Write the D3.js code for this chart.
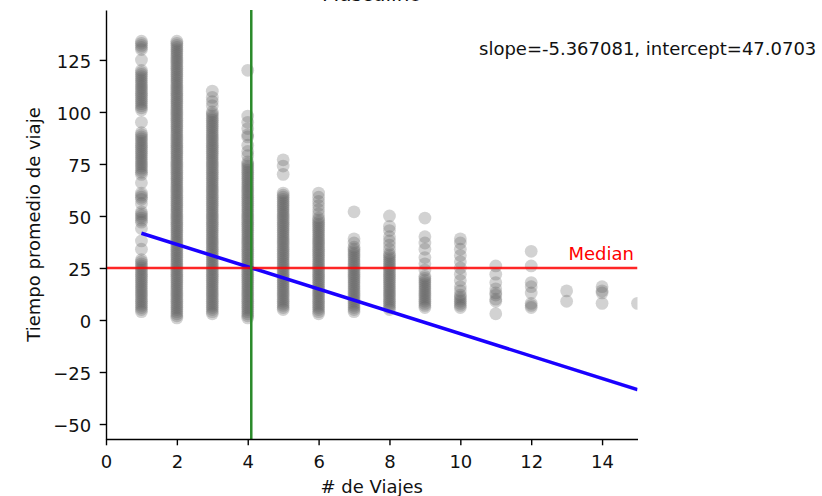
<!DOCTYPE html>
<html><head><meta charset="utf-8">
<script src="https://cdn.jsdelivr.net/npm/d3@7"></script>
<style>
body{margin:0;background:#fff}
svg{display:block}
text{font-family:"DejaVu Sans",sans-serif}
</style>
</head><body>
<svg id="chart" width="822" height="496"></svg>
<script>
// ---- data ----
const tripCounts = [1,2,3,4,5,6,7,8,9,10,11,12,13,14,15];
const t1 = [134,133,132,131,130,125,120,119,118,117,116,115,114,113,112,111,110,109,108,107,106,105,104,103,102,101,95,90,89,88,87,86,85,84,83,82,81,80,79,78,77,76,75,74,73,72,71,70,66,61,60,59,58,56,52,51,50,49,48,47,44,38,34,29,28,27,26,25,24,23,22,21,20,19,18,17,16,15,14,13,12,11,10,9,8,7,6,5,4];
const t2 = [134,133,132,131,130,129,128,127,126,125,124,123,122,121,120,119,118,117,116,115,114,113,112,111,110,109,108,107,106,105,104,103,102,101,100,99,98,97,96,95,94,93,92,91,90,89,88,87,86,85,84,83,82,81,80,79,78,77,76,75,74,73,72,71,70,69,68,67,66,65,64,63,62,61,60,59,58,57,56,55,54,53,52,51,50,49,48,47,46,45,44,43,42,41,40,39,38,37,36,35,34,33,32,31,30,29,28,27,26,25,24,23,22,21,20,19,18,17,16,15,14,13,12,11,10,9,8,7,6,5,4,3,2,1];
const t3 = [110,107,105,103,100,99,98,97,96,95,94,93,92,91,90,89,88,87,86,85,84,83,82,81,80,79,78,77,76,75,74,73,72,71,70,69,68,67,66,65,64,63,62,61,60,59,58,57,56,55,54,53,52,51,50,49,48,47,46,45,44,43,42,41,40,39,38,37,36,35,34,33,32,31,30,29,28,27,26,25,24,23,22,21,20,19,18,17,16,15,14,13,12,11,10,9,8,7,6,5,4,3];
const t4 = [120,98,95,92,89,88,84,81,79,76,75,74,73,72,71,70,69,68,67,66,65,64,63,62,61,60,59,58,57,56,55,54,53,52,51,50,49,48,47,46,45,44,43,42,41,40,39,38,37,36,35,34,33,32,31,30,29,28,27,26,25,24,23,22,21,20,19,18,17,16,15,14,13,12,11,10,9,8,7,6,5,4,3,2,1];
const t5 = [77,74,70,61,60,59,58,57,56,55,54,53,52,51,50,49,48,47,46,45,44,43,42,41,40,39,38,37,36,35,34,33,32,31,30,29,28,27,26,25,24,23,22,21,20,19,18,17,16,15,14,13,12,11,10,9,8,7,6,5];
const t6 = [61,59,57,55,53,51,49,48,47,46,45,44,43,42,41,40,39,38,37,36,35,34,33,32,31,30,29,28,27,26,25,24,23,22,21,20,19,18,17,16,15,14,13,12,11,10,9,8,7,6,5,4,3];
const t7 = [52,39,37,35,34,33,32,31,30,29,28,27,26,25,24,23,22,21,20,19,18,17,16,15,14,13,12,11,10,9,8,7,6,5,4];
const t8 = [50,45,43,40,38,36,34,32,31,30,29,28,27,26,25,24,23,22,21,20,19,18,17,16,15,14,13,12,11,10,9,8,7,6,5];
const t9 = [49,40,37,34,30,27,24,21,20,19,18,17,16,15,14,13,12,11,10,9,8,7,6];
const t10 = [39,37,34,31,28,25,22,19,16,14,12,11,10,9,8,7,6];
const t11 = [26,22,18,15,13,12,10,9,3];
const t12 = [33,26,18,16,13,8,7,6];
const t13 = [14,9];
const t14 = [16,14,13,8];
const t15 = [8];
const columns = [t1,t2,t3,t4,t5,t6,t7,t8,t9,t10,t11,t12,t13,t14,t15];

const xTicks = [0,2,4,6,8,10,12,14];
const yTicks = [-50,-25,0,25,50,75,100,125];
const medianValue = 25;
const meanTrips = 4.1;
const slope = -5.367081, intercept = 47.0703;
const regX = [1, 15];
const ciX = [1, 3, 5, 8, 11, 13, 15];
const ciHalf = [0.45, 0.25, 0.2, 0.35, 0.6, 0.8, 1.0];
const titleText = "Masculino";
const xLabel = "# de Viajes";
const yLabel = "Tiempo promedio de viaje";
const medianLabel = "Median";
const annotation = "slope=-5.367081, intercept=47.0703";

// ---- chart ----
const svg = d3.select("#chart");
const L = 106, R = 637.5, T = 10, B = 439;
const x = d3.scaleLinear().domain([0, 15]).range([L, R]);
const y = d3.scaleLinear().domain([-57.2, 149]).range([B, T]);
const FS = 18;

svg.append("defs").append("clipPath").attr("id", "clip")
  .append("rect").attr("x", L).attr("y", T).attr("width", R - L).attr("height", B - T);

const plot = svg.append("g").attr("clip-path", "url(#clip)");

const pts = [];
columns.forEach((col, i) => col.forEach(v => pts.push([tripCounts[i], v])));
plot.append("g").selectAll("circle").data(pts).join("circle")
  .attr("cx", d => x(d[0])).attr("cy", d => y(d[1])).attr("r", 6.4)
  .attr("fill", "#5e5e5e").attr("fill-opacity", 0.28);

// regression CI band and line
const ci = ciX.map((xv, i) => ({x: xv, y: intercept + slope * xv, h: ciHalf[i]}));
plot.append("path").datum(ci)
  .attr("d", d3.area().x(d => x(d.x)).y0(d => y(d.y - d.h)).y1(d => y(d.y + d.h)))
  .attr("fill", "#0000ff").attr("fill-opacity", 0.15);
plot.append("path").datum(regX.map(xv => [xv, intercept + slope * xv]))
  .attr("d", d3.line().x(d => x(d[0])).y(d => y(d[1])))
  .attr("stroke", "#1a00ff").attr("stroke-width", 3.5).attr("fill", "none");

// median line
plot.append("line").attr("x1", L).attr("x2", R)
  .attr("y1", y(medianValue)).attr("y2", y(medianValue))
  .attr("stroke", "#ff0000").attr("stroke-opacity", 0.85).attr("stroke-width", 2.5);
// mean trips line
plot.append("line").attr("x1", x(meanTrips)).attr("x2", x(meanTrips))
  .attr("y1", T).attr("y2", B)
  .attr("stroke", "#2a8a2a").attr("stroke-width", 2.5);

// axes
const yAxis = svg.append("g").attr("transform", `translate(${L},0)`)
  .call(d3.axisLeft(y).tickValues(yTicks).tickSize(6.3).tickSizeOuter(0).tickPadding(8.5));
const xAxis = svg.append("g").attr("transform", `translate(0,${B})`)
  .call(d3.axisBottom(x).tickValues(xTicks).tickSize(6.3).tickSizeOuter(0).tickPadding(9.9));
[yAxis, xAxis].forEach(g => {
  g.selectAll(".domain").attr("stroke", "#000").attr("stroke-width", 1.4);
  g.selectAll(".tick line").attr("stroke", "#000").attr("stroke-width", 1.4);
  g.selectAll(".tick text").attr("font-size", FS).attr("font-family", "DejaVu Sans").attr("fill", "#111");
});
yAxis.selectAll(".tick text").attr("dy", "0.42em");

// labels
svg.append("text").attr("x", (L + R) / 2).attr("y", 493).attr("text-anchor", "middle")
  .attr("font-size", FS).attr("fill", "#111").text(xLabel);
svg.append("text").attr("transform", `translate(40,${(T + B) / 2}) rotate(-90)`)
  .attr("text-anchor", "middle").attr("font-size", FS).attr("fill", "#111").text(yLabel);
svg.append("text").attr("x", (L + R) / 2).attr("y", 1).attr("text-anchor", "middle")
  .attr("font-size", 20).attr("fill", "#111").text(titleText);
svg.append("text").attr("x", 634).attr("y", 260).attr("text-anchor", "end")
  .attr("font-size", FS).attr("fill", "#ff0000").text(medianLabel);
svg.append("text").attr("x", 479).attr("y", 54.5)
  .attr("font-size", FS).attr("fill", "#111").text(annotation);
</script>
</body></html>
